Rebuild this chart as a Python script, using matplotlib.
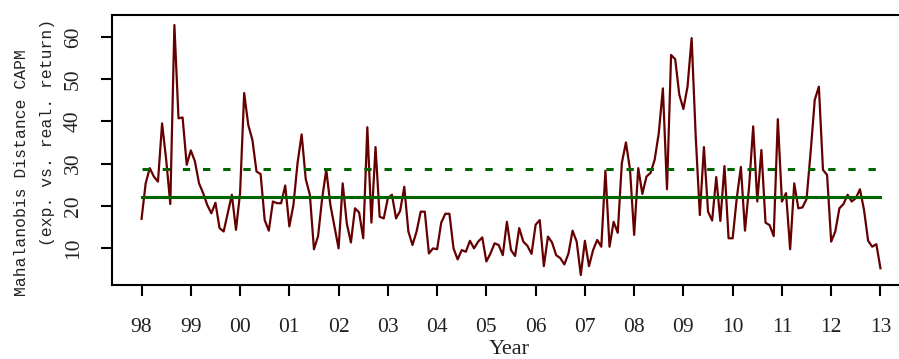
import numpy as np
import matplotlib
matplotlib.use("Agg")
import matplotlib.pyplot as plt

# monthly values, Jan 1998 .. Jan 2013
distance = [
    16.9, 25.3, 28.9, 26.9, 25.7, 39.5, 30.9, 20.4, 62.8, 40.7,
    40.9, 29.7, 33.1, 30.5, 25.3, 23.0, 20.2, 18.2, 20.7, 14.7,
    13.9, 18.2, 22.6, 14.3, 23.0, 46.7, 39.1, 35.6, 28.1, 27.5,
    16.6, 14.1, 21.0, 20.6, 20.6, 24.8, 15.1, 20.2, 30.1, 36.9,
    26.3, 22.6, 9.7, 12.8, 21.8, 28.5, 20.2, 15.1, 9.9, 25.3,
    15.8, 11.3, 19.4, 18.4, 12.3, 38.6, 16.0, 33.9, 17.4, 17.0,
    21.8, 22.6, 17.0, 18.8, 24.5, 13.9, 10.7, 13.9, 18.6, 18.6,
    8.7, 9.9, 9.7, 16.0, 18.1, 18.1, 9.9, 7.3, 9.5, 9.1,
    11.7, 9.9, 11.5, 12.5, 6.8, 8.7, 11.1, 10.7, 8.3, 16.2,
    9.5, 8.1, 14.7, 11.5, 10.5, 8.6, 15.5, 16.6, 5.7, 12.7,
    11.3, 8.3, 7.6, 6.1, 8.7, 14.1, 11.5, 3.6, 11.7, 5.7,
    9.5, 11.9, 10.3, 28.3, 10.3, 16.2, 13.6, 30.1, 35.0, 28.5,
    13.1, 28.9, 22.8, 26.9, 27.8, 30.9, 37.2, 47.8, 23.9, 55.7,
    54.7, 46.3, 42.9, 48.2, 59.7, 36.4, 17.8, 33.9, 18.6, 16.5,
    26.8, 16.4, 29.4, 12.3, 12.3, 21.8, 29.2, 14.1, 24.5, 38.8,
    21.0, 33.2, 16.0, 15.4, 12.8, 40.5, 21.0, 23.0, 9.7, 25.3,
    19.4, 19.6, 21.6, 32.8, 45.1, 48.2, 28.5, 27.3, 11.5, 13.9,
    19.4, 20.4, 22.6, 21.0, 21.8, 23.9, 19.0, 11.7, 10.3, 10.9,
    5.2,
]
mean_level = 22.0
upper_level = 28.6
tick_years = list(range(1998, 2014))
tick_labels = ["%02d" % (y % 100) for y in tick_years]

t = 1998 + np.arange(len(distance)) / 12.0
d = np.array(distance)

fig = plt.figure(figsize=(8.99, 3.59), dpi=100)
ax = fig.add_axes([112 / 899, 74 / 359, 798 / 899, 270 / 359])

ax.plot(t, d, color="#660000", lw=1.6, zorder=2)
ax.plot([t[0], t[-1]], [mean_level, mean_level], color="#006400", lw=2.2, zorder=3)
ax.plot([t[0], t[-1]], [upper_level, upper_level], color="#006400", lw=2.2,
        dashes=(2.4, 4.2), dash_capstyle="butt", zorder=3)

# R style 4% padding
xr = t[-1] - t[0]
ax.set_xlim(t[0] - 0.04 * xr, t[-1] + 0.04 * xr)
yr = d.max() - d.min()
ax.set_ylim(d.min() - 0.04 * yr, d.max() + 0.04 * yr)

for s in ax.spines.values():
    s.set_linewidth(1.5)

serif = "Liberation Serif"
mono = "Liberation Mono"

ax.set_xticks(tick_years)
ax.set_xticklabels(tick_labels, fontfamily=serif, fontsize=15.5, color="#222222")
ax.set_yticks([10, 20, 30, 40, 50, 60])
ax.set_yticklabels(["10", "20", "30", "40", "50", "60"], fontfamily=serif,
                   fontsize=15.5, rotation=90, va="center", color="#222222")
ax.tick_params(axis="both", direction="out", length=8, width=1.5)
ax.tick_params(axis="x", pad=16)
ax.tick_params(axis="y", pad=13)

fig.text(509 / 899, 1 - 350 / 359, "Year", fontfamily=serif, fontsize=16,
         ha="center", va="center", color="#222222")
fig.text(22 / 899, 1 - 173 / 359, "Mahalanobis Distance CAPM", fontfamily=mono,
         fontsize=11.8, rotation=90, ha="center", va="center", color="#222222")
fig.text(48 / 899, 1 - 132 / 359, "(exp. vs. real. return)", fontfamily=mono,
         fontsize=11.8, rotation=90, ha="center", va="center", color="#222222")

fig.savefig("out.png", dpi=100)
